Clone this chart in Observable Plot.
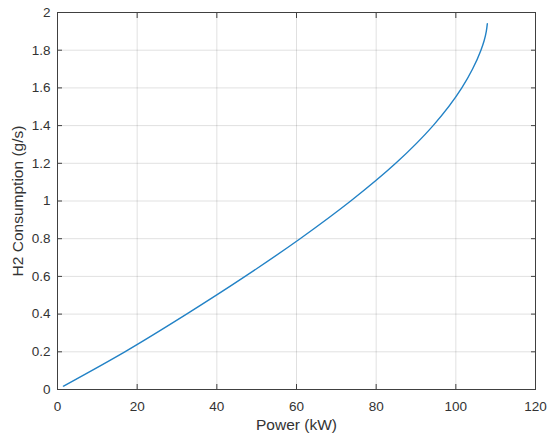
<!DOCTYPE html>
<html>
<head>
<meta charset="utf-8">
<script src="https://cdn.jsdelivr.net/npm/d3@7"></script>
<script src="https://cdn.jsdelivr.net/npm/@observablehq/plot@0.6"></script>
<style>
  html, body { margin: 0; padding: 0; background: #fff; }
  #chart { width: 550px; height: 443px; }
</style>
</head>
<body>
<div id="chart"></div>
<script>
const h2    = [0.018, 0.2, 0.4, 0.6, 0.8, 1.0, 1.2, 1.4, 1.6, 1.7, 1.8, 1.85, 1.9, 1.94];
const power = [1.5, 16.9, 32.4, 47.1, 60.9, 73.6, 84.9, 94.3, 101.5, 104.2, 106.3, 107.1, 107.65, 107.9];
const xTicks = [0, 20, 40, 60, 80, 100, 120];
const yTicks = [0, 0.2, 0.4, 0.6, 0.8, 1, 1.2, 1.4, 1.6, 1.8, 2];
const xLabel = "Power (kW)";
const yLabel = "H2 Consumption (g/s)";

const data = power.map((p, i) => ({power: p, h2: h2[i]}));
const axisColor = "#404040";
const fmt = d => String(d);

const chart = Plot.plot({
  width: 550,
  height: 443,
  marginLeft: 57,
  marginRight: 15,
  marginTop: 12,
  marginBottom: 54,
  style: {fontFamily: "'Liberation Sans', Arial, Helvetica, sans-serif", color: "#333", background: "#fff"},
  x: {domain: [0, 120]},
  y: {domain: [0, 2]},
  marks: [
    Plot.ruleX(xTicks, {stroke: "#000", strokeOpacity: 0.12}),
    Plot.ruleY(yTicks, {stroke: "#000", strokeOpacity: 0.12}),
    Plot.line(data, {x: "power", y: "h2", stroke: "#2282c6", strokeWidth: 1.4, curve: "monotone-y"}),
    Plot.frame({stroke: axisColor, strokeWidth: 1}),
    Plot.axisX(xTicks, {anchor: "bottom", tickSize: 0, tickPadding: 12, fontSize: 13.5, label: null, tickFormat: fmt}),
    Plot.axisX(xTicks, {anchor: "bottom", tickSize: -5, stroke: axisColor, tickFormat: () => "", label: null}),
    Plot.axisX(xTicks, {anchor: "top", tickSize: -5, stroke: axisColor, tickFormat: () => "", label: null}),
    Plot.axisY(yTicks, {anchor: "left", tickSize: 0, tickPadding: 7, fontSize: 13.5, label: null, tickFormat: fmt}),
    Plot.axisY(yTicks, {anchor: "left", tickSize: -5, stroke: axisColor, tickFormat: () => "", label: null}),
    Plot.axisY(yTicks, {anchor: "right", tickSize: -5, stroke: axisColor, tickFormat: () => "", label: null}),
    Plot.text([xLabel], {frameAnchor: "bottom", dy: 36, fontSize: 15.5, textAnchor: "middle", lineAnchor: "middle", fill: "#333"}),
    Plot.text([yLabel], {frameAnchor: "left", dx: -39, rotate: -90, fontSize: 15.5, textAnchor: "middle", lineAnchor: "middle", fill: "#333"})
  ]
});
document.getElementById("chart").appendChild(chart);
</script>
</body>
</html>
